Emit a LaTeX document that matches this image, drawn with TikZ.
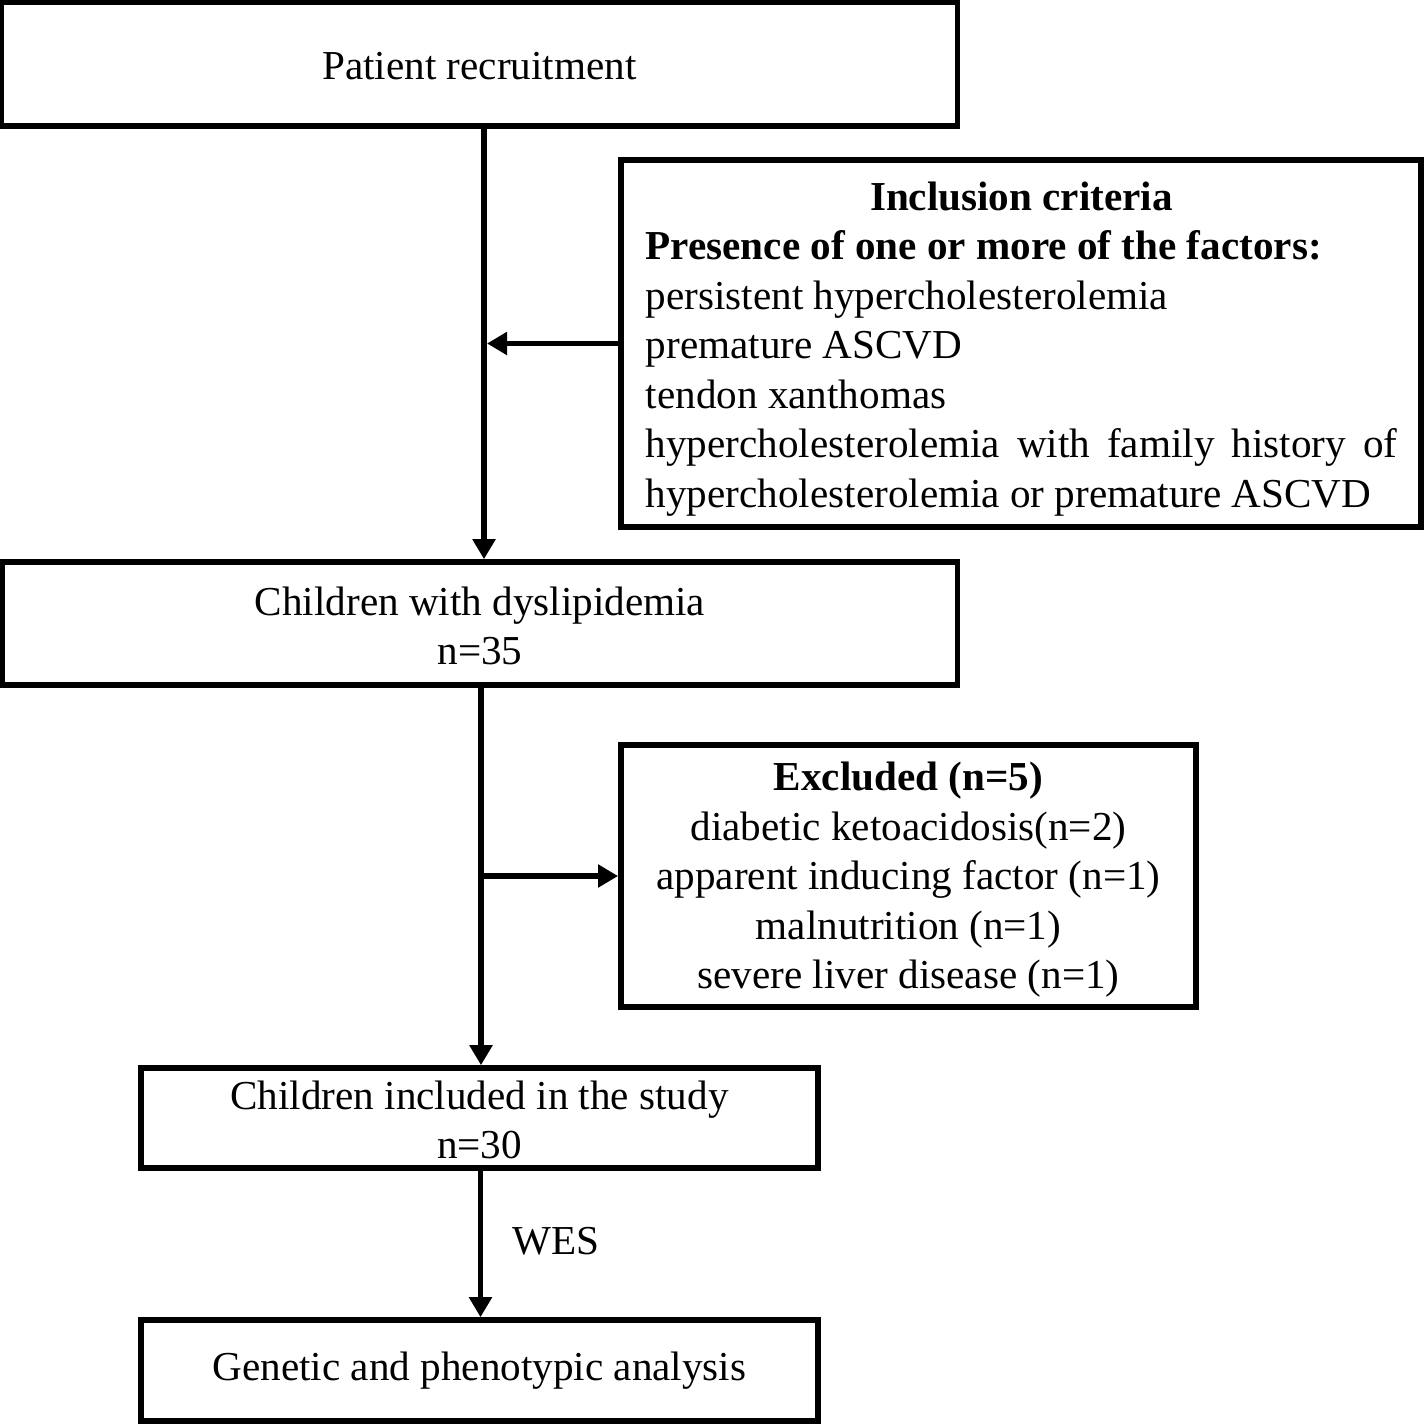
\documentclass[tikz,border=0pt]{standalone}
\usepackage{fontspec}
\setmainfont{Liberation Serif}
\usetikzlibrary{arrows.meta}
\begin{document}
\begin{tikzpicture}[x=0.01cm,y=-0.01cm,
  box/.style={draw, line width=0.055cm, inner sep=0pt},
  txt/.style={inner sep=0pt, align=center, font=\fontsize{11.7}{14.08}\selectfont},
  conn/.style={line width=0.055cm},
  arr/.style={conn, -{Triangle[length=0.2cm,width=0.22cm]}},
  lbl/.style={font=\fontsize{11.7}{14.08}\selectfont, inner sep=0pt}]
\useasboundingbox (0,0) rectangle (1424,1424);
% boxes
\node[box, minimum width=9.55cm, minimum height=1.24cm] (pr) at (479.5,64) {};
\node[box, minimum width=8.0cm, minimum height=3.67cm] (inc) at (1021,343.5) {};
\node[box, minimum width=9.54cm, minimum height=1.23cm] (cwd) at (480,623.5) {};
\node[box, minimum width=5.75cm, minimum height=2.62cm] (exc) at (908.5,876) {};
\node[box, minimum width=6.77cm, minimum height=1.0cm] (ci) at (479.5,1118) {};
\node[box, minimum width=6.77cm, minimum height=1.01cm] (ga) at (479.5,1370.5) {};
% texts
\node[txt, text width=7.51cm, align=left] (incT) at (1021.5,349)
 {\spaceskip=0pt\xspaceskip=0pt
  \makebox[7.51cm]{\textbf{Inclusion criteria}}\\
  \textbf{Presence of one or more of the factors:}\\
  persistent hypercholesterolemia\\
  premature ASCVD\\
  tendon xanthomas\\
  \makebox[7.51cm][s]{hypercholesterolemia with family history of}\\
  hypercholesterolemia or premature ASCVD};
\node[txt] (prT) at (479.5,66) {Patient recruitment};
\node[txt] (cwdT) at (480,626) {Children with dyslipidemia\\ n=35};
\node[txt] (excT) at (908.5,880) {\textbf{Excluded (n=5)}\\ diabetic ketoacidosis(n=2)\\ apparent inducing factor (n=1)\\ malnutrition (n=1)\\ severe liver disease (n=1)};
\node[txt] (ciT) at (479.5,1120) {Children included in the study\\ n=30};
\node[txt] (gaT) at (479.5,1371) {Genetic and phenotypic analysis};
% connectors
\coordinate (top) at ([xshift=0.045cm]pr.south);
\draw[arr] (top) -- (top |- cwd.north);
\draw[arr, shorten >=0.03cm] (inc.west) -- (top |- inc.west);
\coordinate (mid) at ([xshift=0.01cm]cwd.south);
\draw[arr] (mid) -- (mid |- ci.north);
\coordinate (br) at (mid |- exc.west);
\draw[arr] (br) -- (exc.west);
\coordinate (bot) at ([xshift=0.01cm]ci.south);
\draw[arr] (bot) -- (bot |- ga.north);
\node[lbl] (wes) at (556,1241) {WES};
\end{tikzpicture}
\end{document}
